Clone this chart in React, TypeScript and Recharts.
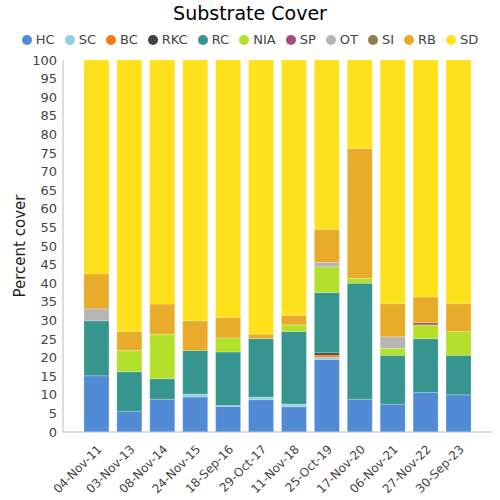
import React from 'react';
import { BarChart, Bar, XAxis, YAxis } from 'recharts';

const categories = ['04-Nov-11', '03-Nov-13', '08-Nov-14', '24-Nov-15', '18-Sep-16', '29-Oct-17', '11-Nov-18', '25-Oct-19', '17-Nov-20', '06-Nov-21', '27-Nov-22', '30-Sep-23'];
const HC = [15.1, 5.6, 8.8, 9.4, 6.9, 8.7, 6.8, 19.5, 8.8, 7.5, 10.6, 10.0];
const SC = [0, 0, 0, 0.8, 0.2, 0.7, 0.7, 0.6, 0, 0, 0, 0];
const BC = [0, 0, 0, 0, 0, 0, 0, 0.6, 0, 0, 0, 0];
const RKC = [0, 0, 0, 0, 0, 0, 0, 0.6, 0, 0, 0, 0];
const RC = [14.8, 10.6, 5.5, 11.7, 14.4, 15.7, 19.5, 16.2, 31.2, 13.1, 14.5, 10.6];
const NIA = [0, 5.7, 12.0, 0, 3.8, 0, 1.8, 6.9, 1.3, 1.9, 3.7, 6.4];
const SP = [0, 0, 0, 0, 0, 0, 0, 0, 0, 0, 0.6, 0];
const OT = [3.2, 0, 0, 0, 0, 0, 0, 1.2, 0, 3.1, 0, 0];
const SI = [0, 0, 0, 0, 0, 0, 0, 0, 0, 0, 0, 0];
const RB = [9.4, 5.1, 8.1, 8.0, 5.5, 1.2, 2.5, 8.9, 34.9, 8.9, 6.9, 7.5];
const SD = [57.5, 73.0, 65.6, 70.1, 69.2, 73.7, 68.7, 45.5, 23.8, 65.5, 63.7, 65.5];
const yTicks = [0, 5, 10, 15, 20, 25, 30, 35, 40, 45, 50, 55, 60, 65, 70, 75, 80, 85, 90, 95, 100];

const seriesNames = ['HC', 'SC', 'BC', 'RKC', 'RC', 'NIA', 'SP', 'OT', 'SI', 'RB', 'SD'];
const seriesValues = [HC, SC, BC, RKC, RC, NIA, SP, OT, SI, RB, SD];
const seriesColors = ['#518bd5', '#92cfe0', '#f97a12', '#424242', '#36958e', '#b3e02b', '#a64b7c', '#b5b5b5', '#8f7d52', '#e8ab2a', '#fee11a'];

const data = categories.map((c, i) => {
  const row: Record<string, string | number> = { name: c };
  seriesNames.forEach((s, j) => {
    row[s] = seriesValues[j][i];
  });
  return row;
});

const FONT = '"DejaVu Sans", sans-serif';

const XTick = (props: any) => {
  const { x, y, payload } = props;
  return (
    <text
      x={x + 6}
      y={y + 10}
      transform={`rotate(-45, ${x + 6}, ${y + 10})`}
      textAnchor="end"
      fontSize={12}
      fill="#444"
      fontFamily={FONT}
    >
      {payload.value}
    </text>
  );
};

export default function App() {
  return (
    <div style={{ position: 'absolute', left: 0, top: 0, width: 500, height: 500, background: '#fff', fontFamily: FONT }}>
      <div style={{ position: 'absolute', left: 0, top: 0, width: 500, textAlign: 'center', fontSize: 19, lineHeight: '26px', color: '#000' }}>
        Substrate Cover
      </div>
      <div style={{ position: 'absolute', left: 0, top: 32, width: 500, display: 'flex', justifyContent: 'center', fontSize: 13, color: '#444', lineHeight: '16px' }}>
        {seriesNames.map((s, i) => (
          <div key={s} style={{ display: 'flex', alignItems: 'center', marginRight: i === seriesNames.length - 1 ? 0 : 10 }}>
            <span style={{ display: 'inline-block', width: 10, height: 10, borderRadius: 5, background: seriesColors[i], marginRight: 4 }} />
            <span>{s}</span>
          </div>
        ))}
      </div>
      <div
        style={{
          position: 'absolute', left: 20, top: 246, transform: 'translate(-50%, -50%) rotate(-90deg)',
          fontSize: 15, color: '#222', whiteSpace: 'nowrap'
        }}
      >
        Percent cover
      </div>
      <div style={{ position: 'absolute', left: 0, top: 0 }}>
        <BarChart width={500} height={500} data={data} margin={{ top: 60, right: 8, bottom: 0, left: 0 }} barCategoryGap="12%">
          <XAxis
            dataKey="name"
            interval={0}
            tickLine={false}
            axisLine={{ stroke: '#bbb' }}
            padding={{ left: 17, right: 17 }}
            height={68}
            tick={<XTick />}
          />
          <YAxis
            width={63}
            domain={[0, 100]}
            ticks={yTicks}
            interval={0}
            allowDataOverflow
            tickLine={false}
            axisLine={{ stroke: '#bbb' }}
            tickSize={6}
            tickMargin={0}
            tick={{ fill: '#444', fontSize: 13, fontFamily: FONT }}
          />
          {seriesNames.map((s, i) => (
            <Bar
              key={s}
              dataKey={s}
              stackId="a"
              fill={seriesColors[i]}
              stroke="#ffffff"
              strokeOpacity={0.35}
              strokeWidth={0.6}
              isAnimationActive={false}
            />
          ))}
        </BarChart>
      </div>
    </div>
  );
}
